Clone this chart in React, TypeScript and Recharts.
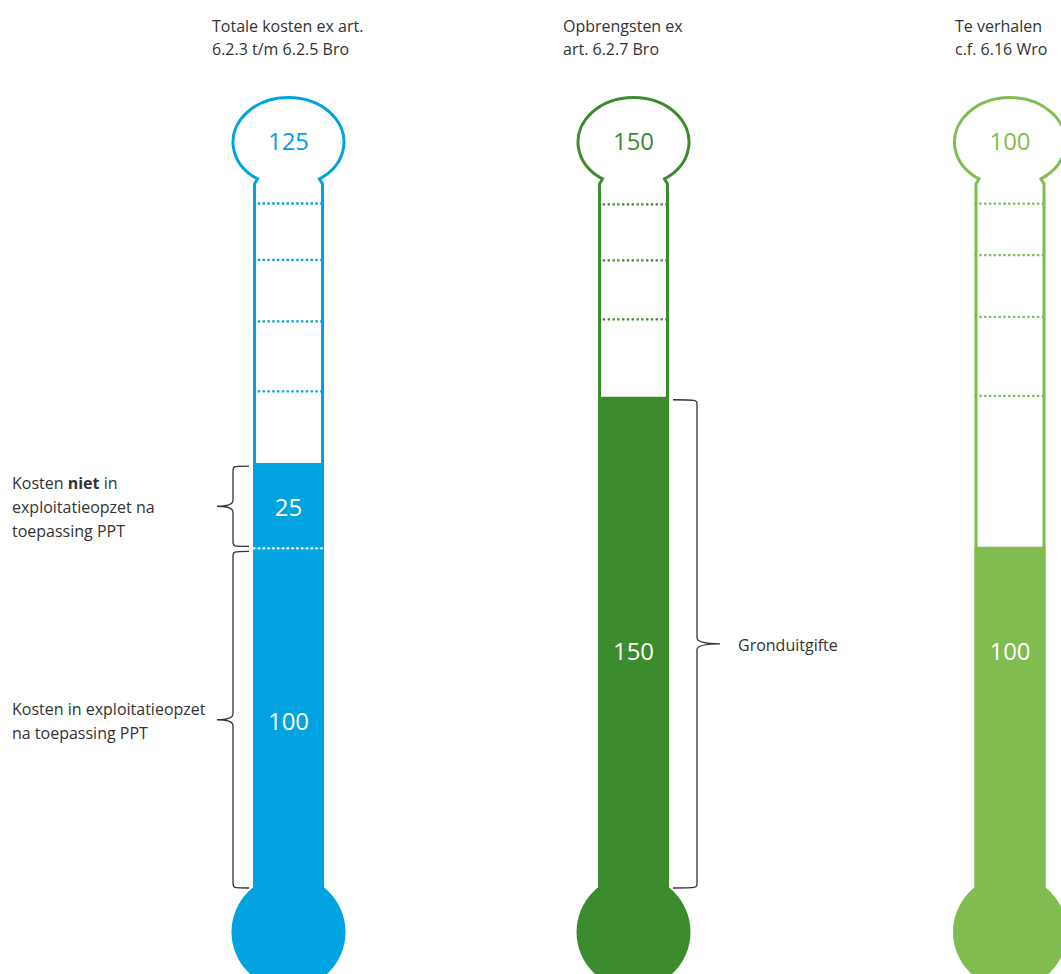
import React from "react";
import { BarChart, Bar, XAxis, YAxis, ReferenceLine, ReferenceArea, LabelList } from "recharts";

// one thermometer per column
const thermometers = ["kosten", "opbrengsten", "verhalen"];
const titles = [
  ["Totale kosten ex art.", "6.2.3 t/m 6.2.5 Bro"],
  ["Opbrengsten ex", "art. 6.2.7 Bro"],
  ["Te verhalen", "c.f. 6.16 Wro"],
];
const basisValues = [100, 150, 100];
const extraValues = [25, 0, 0];
const scaleMax = [207, 215, 206];
const scaleMarks = [
  [201, 184.5, 166.5, 146],
  [208.5, 191.5, 173.5],
  [200, 185, 167, 144],
];
const colors = ["#00a3e0", "#3d8b2f", "#80bc50"];

// brace texts: [basis segment, extra segment]; *word* = bold
const braceTexts = [
  [["Kosten in exploitatieopzet", "na toepassing PPT"], ["Kosten *niet* in", "exploitatieopzet na", "toepassing PPT"]],
  [["Gronduitgifte"], []],
  [[], []],
];

const W = 1061;
const H = 974;
const PLOT_TOP = 183;
const PLOT_BOTTOM = 890;
const TUBE_W = 71;
const TEXT = "#333333";

const LAYOUT = [
  { tubeLeft: 253, titleDx: -76.5, labelDy: 2, brace: { side: "left", arm: 4, v: 20, tip: 36, textX: 12 } },
  { tubeLeft: 598, titleDx: -70.5, labelDy: 8, brace: { side: "right", arm: 4, v: 28, tip: 51, textX: 738 } },
  { tubeLeft: 974.5, titleDx: -55, labelDy: -67, brace: null },
];

function TitleTick({ x, lines, dx }: any) {
  return (
    <text x={x + dx} y={31.5} fill={TEXT} fontSize={16}>
      {lines.map((l: string, k: number) => (
        <tspan key={k} x={x + dx} y={31.5 + k * 23.5}>
          {l}
        </tspan>
      ))}
    </text>
  );
}

function Outline({ x, y, width, height, color, total }: any) {
  const cx = x + width / 2;
  const half = width / 2 - 1.5;
  const cy = y - 41;
  const rx = 55.5;
  const ry = 44.5;
  const jx = 31;
  const jy = cy + ry * Math.sqrt(1 - (jx / rx) ** 2);
  const d =
    `M${cx - half},${y + height} L${cx - half},${y + 1} L${cx - jx},${jy} ` +
    `A${rx},${ry} 0 1 1 ${cx + jx},${jy} L${cx + half},${y + 1} L${cx + half},${y + height}`;
  return (
    <g>
      <circle cx={cx} cy={y + height + 42} r={57} fill={color} />
      <path d={d} fill="#fff" stroke={color} strokeWidth={3} />
      <text x={cx} y={cy} dy="0.35em" textAnchor="middle" fill={color} fontSize={24}>
        {total}
      </text>
    </g>
  );
}

function FillLabel({ x, y, width, height, value, dy }: any) {
  if (!value) return null;
  return (
    <text x={x + width / 2} y={y + height / 2 + dy} dy="0.35em" textAnchor="middle" fill="#fff" fontSize={24}>
      {value}
    </text>
  );
}

function Brace({ x, y, width, height, geo, lines }: any) {
  const top = y + 3;
  const bot = y + height - 2;
  const mid = (top + bot) / 2;
  const s = geo.side === "left" ? -1 : 1;
  const edge = geo.side === "left" ? x : x + width;
  const arm = edge + s * geo.arm;
  const v = edge + s * geo.v;
  const tip = edge + s * geo.tip;
  const r = 5;
  const d =
    `M${arm},${top} C${v},${top} ${v},${top} ${v},${top + r} L${v},${mid - 6} ` +
    `Q${v},${mid} ${tip},${mid} Q${v},${mid} ${v},${mid + 6} ` +
    `L${v},${bot - r} C${v},${bot} ${v},${bot} ${arm},${bot}`;
  const first = mid + 7 - ((lines.length - 1) * 24) / 2;
  return (
    <g>
      <path d={d} fill="none" stroke={TEXT} strokeWidth={1.3} />
      <text x={geo.textX} y={first} fill={TEXT} fontSize={16}>
        {lines.map((l: string, k: number) => (
          <tspan key={k} x={geo.textX} y={first + k * 24}>
            {l.split("*").map((part, j) => (
              <tspan key={j} fontWeight={j % 2 === 1 ? "bold" : "normal"}>
                {part}
              </tspan>
            ))}
          </tspan>
        ))}
      </text>
    </g>
  );
}

function Thermometer({ i }: { i: number }) {
  const color = colors[i];
  const lay = LAYOUT[i];
  const basis = basisValues[i];
  const total = basis + extraValues[i];
  const data = [{ naam: thermometers[i], basis, extra: extraValues[i] }];
  const segments: [number, number, string[]][] = [
    [0, basis, braceTexts[i][0]],
    [basis, total, braceTexts[i][1]],
  ];

  return (
    <div style={{ position: "absolute", left: 0, top: 0 }}>
      <BarChart
        width={W}
        height={H}
        data={data}
        barCategoryGap={0}
        margin={{ top: PLOT_TOP - 20, bottom: H - PLOT_BOTTOM, left: lay.tubeLeft, right: W - lay.tubeLeft - TUBE_W }}
      >
        <XAxis
          dataKey="naam"
          orientation="top"
          height={20}
          axisLine={false}
          tickLine={false}
          interval={0}
          tick={(p: any) => <TitleTick {...p} lines={titles[i]} dx={lay.titleDx} />}
        />
        <YAxis hide domain={[0, scaleMax[i]]} allowDataOverflow />
        <Bar
          dataKey="basis"
          stackId="t"
          fill={color}
          isAnimationActive={false}
          background={(p: any) => <Outline {...p} color={color} total={total} />}
        >
          <LabelList dataKey="basis" content={(p: any) => <FillLabel {...p} dy={lay.labelDy} />} />
        </Bar>
        <Bar dataKey="extra" stackId="t" fill={color} isAnimationActive={false}>
          <LabelList dataKey="extra" content={(p: any) => <FillLabel {...p} dy={lay.labelDy} />} />
        </Bar>
        {scaleMarks[i].map((v) => (
          <ReferenceLine key={v} y={v} stroke={color} strokeWidth={2.3} strokeDasharray="2.4 2.4" />
        ))}
        {extraValues[i] > 0 && (
          <ReferenceLine y={basis} stroke="#ffffff" strokeWidth={2.3} strokeDasharray="2.4 2.4" />
        )}
        {lay.brace &&
          segments
            .filter((sg) => sg[2].length > 0 && sg[1] > sg[0])
            .map((sg, k) => (
              <ReferenceArea
                key={k}
                y1={sg[0]}
                y2={sg[1]}
                shape={(p: any) => <Brace {...p} geo={lay.brace} lines={sg[2]} />}
              />
            ))}
      </BarChart>
    </div>
  );
}

export default function App() {
  return (
    <div
      style={{
        position: "absolute",
        left: 0,
        top: 0,
        width: W,
        height: H,
        overflow: "hidden",
        background: "#fff",
        fontFamily: "'Open Sans', sans-serif",
      }}
    >
      {thermometers.map((_, i) => (
        <Thermometer key={i} i={i} />
      ))}
    </div>
  );
}
